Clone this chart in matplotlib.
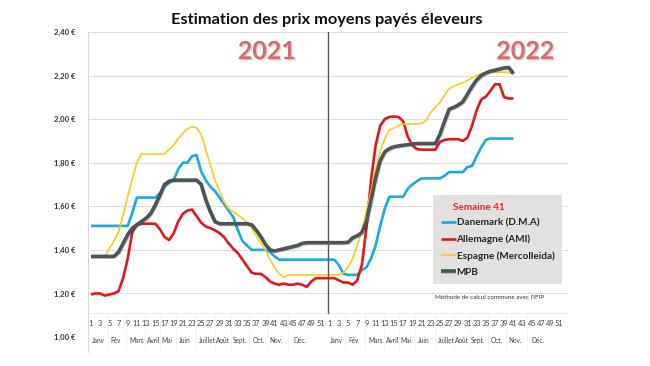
import numpy as np
import matplotlib
matplotlib.use("Agg")
import matplotlib.pyplot as plt
import matplotlib.patheffects as pe

plt.rcParams['font.family'] = ['Lato', 'DejaVu Sans']

# weekly prices 2021 (weeks 1-52)
danemark_2021 = [1.51] * 9 + [1.57] + [1.64] * 5 + [
    1.66, 1.69, 1.71, 1.72, 1.77, 1.80, 1.80, 1.83, 1.835, 1.76,
    1.72, 1.69, 1.67, 1.64, 1.61, 1.58, 1.55, 1.49, 1.44, 1.42] + [1.40] * 4 + [1.39, 1.37] + [1.355] * 11
allemagne_2021 = [1.195, 1.20, 1.20, 1.19, 1.195, 1.20, 1.21, 1.27, 1.36, 1.48,
                  1.515, 1.52, 1.52, 1.52, 1.52, 1.495, 1.46, 1.445, 1.475, 1.53,
                  1.565, 1.58, 1.585, 1.555, 1.525, 1.507, 1.50, 1.49, 1.477, 1.458,
                  1.43, 1.405, 1.385, 1.355, 1.325, 1.295, 1.29, 1.29, 1.275, 1.255,
                  1.245, 1.24, 1.245, 1.24, 1.24, 1.245, 1.24, 1.23, 1.255, 1.27,
                  1.27, 1.27]
espagne_2021 = [1.37] * 4 + [1.405, 1.44, 1.48, 1.56, 1.645, 1.725, 1.80] + [1.84] * 6 + [
    1.86, 1.88, 1.91, 1.935, 1.955, 1.965, 1.96, 1.93, 1.86, 1.79,
    1.72, 1.67, 1.62, 1.59, 1.575, 1.56, 1.545, 1.525, 1.50, 1.465,
    1.43, 1.40, 1.355, 1.32, 1.29, 1.275] + [1.285] * 9
mpb_2021 = [1.37] * 6 + [1.39, 1.43, 1.47, 1.50, 1.515, 1.53, 1.545, 1.567, 1.605, 1.65,
                         1.70, 1.715] + [1.72] * 6 + [1.70, 1.63, 1.575, 1.53] + [1.52] * 7 + [
    1.515, 1.49, 1.46, 1.425, 1.40, 1.395, 1.40, 1.405, 1.41, 1.415,
    1.42, 1.43] + [1.433] * 5

# weekly prices 2022 (weeks 1-41)
danemark_2022 = [1.355, 1.355, 1.33, 1.29, 1.285, 1.285, 1.285, 1.307, 1.32, 1.36,
                 1.42, 1.51, 1.59, 1.644, 1.644, 1.644, 1.644, 1.68, 1.70, 1.715,
                 1.728, 1.728, 1.728, 1.728, 1.728, 1.74, 1.757, 1.757, 1.757, 1.757,
                 1.78, 1.785, 1.83, 1.87, 1.905, 1.911, 1.911, 1.911, 1.911, 1.911,
                 1.911]
allemagne_2022 = [1.27, 1.27, 1.26, 1.25, 1.25, 1.24, 1.26, 1.33, 1.50, 1.72,
                  1.88, 1.97, 2.00, 2.01, 2.012, 2.01, 1.99, 1.92, 1.88, 1.862,
                  1.86, 1.86, 1.86, 1.86, 1.895, 1.905, 1.908, 1.908, 1.908, 1.90,
                  1.915, 1.97, 2.04, 2.09, 2.103, 2.13, 2.16, 2.16, 2.10, 2.095,
                  2.095]
espagne_2022 = [1.285, 1.285, 1.285, 1.295, 1.32, 1.36, 1.42, 1.49, 1.58, 1.67,
                1.77, 1.85, 1.91, 1.95, 1.96, 1.972, 1.977, 1.978, 1.978, 1.978,
                1.98, 1.995, 2.03, 2.056, 2.075, 2.11, 2.14, 2.15, 2.16, 2.168,
                2.178, 2.19, 2.20, 2.21, 2.213, 2.215, 2.215, 2.215, 2.215, 2.215,
                2.205]
mpb_2022 = [1.433, 1.433, 1.433, 1.433, 1.435, 1.455, 1.465, 1.48, 1.53, 1.63,
            1.73, 1.81, 1.85, 1.865, 1.873, 1.877, 1.88, 1.883, 1.886, 1.888,
            1.888, 1.888, 1.888, 1.888, 1.93, 1.99, 2.045, 2.054, 2.065, 2.08,
            2.115, 2.15, 2.18, 2.20, 2.212, 2.22, 2.225, 2.23, 2.235, 2.237,
            2.21]

weeks_per_year = 52
week_labels = [str(w) for w in range(1, weeks_per_year + 1)]
months = ["Janv", "Fév", "Mars", "Avril", "Mai", "Juin", "Juillet", "Août",
          "Sept.", "Oct.", "Nov.", "Déc."]
month_pos = [1.5, 5.3, 10.0, 13.7, 16.5, 20.5, 25.3, 28.7, 32.4, 36.5, 40.4, 45.4]
yticks = [1.0, 1.2, 1.4, 1.6, 1.8, 2.0, 2.2, 2.4]

series = [
    ("Danemark (D.M.A)", danemark_2021 + danemark_2022, "#1AA9E2", 1.9),
    ("Allemagne (AMI)", allemagne_2021 + allemagne_2022, "#E3161C", 1.9),
    ("Espagne (Mercolleida)", espagne_2021 + espagne_2022, "#FFC918", 1.2),
    ("MPB", mpb_2021 + mpb_2022, "#4A5557", 2.6),
]

fig = plt.figure(figsize=(6.5, 3.66), dpi=100)
ax = fig.add_axes([88 / 650, 29 / 366, 480 / 650, 305 / 366])

handles = []
for name, vals, col, lw in series:
    x = np.arange(len(vals))
    effects = None
    if name == "MPB":
        effects = [pe.SimpleLineShadow(offset=(0.6, -0.6), alpha=0.2), pe.Normal()]
    ln, = ax.plot(x, vals, color=col, lw=lw, label=name, solid_capstyle='butt',
                  path_effects=effects)
    handles.append(ln)

ax.set_xlim(-0.65, 103.9)
ax.set_ylim(1.0, 2.4)
ax.set_yticks(yticks)
ax.set_yticklabels([("%.2f €" % v).replace(".", ",") for v in yticks],
                   fontsize=5.5, fontweight='bold', color='#333333')
ax.tick_params(axis='y', length=0, pad=9)
ax.set_xticks([])
for t in yticks[1:]:
    ax.axhline(t, color='#DDDDDD', lw=0.8, zorder=0)
for s in ['top', 'right', 'bottom']:
    ax.spines[s].set_visible(False)
ax.spines['left'].set_color('#D9D9D9')
ax.spines['left'].set_linewidth(0.8)

# category axis line and year separator
ax.plot([-0.65, 103.9], [1.11, 1.11], color='#E6E6E6', lw=0.6, zorder=0)
ax.plot([51.6, 51.6], [1.11, 2.4], color='#595959', lw=1.0)
ax.plot([-0.65, -0.65], [0.93, 1.0], color='#D9D9D9', lw=0.8, clip_on=False)

# week and month labels
for yr in range(2):
    off = yr * weeks_per_year
    for i in range(0, weeks_per_year, 2):
        ax.text(off + i, 1.064, week_labels[i], ha='center', va='center',
                fontsize=5.3, color='#404040', clip_on=False)
    for m, p in zip(months, month_pos):
        ax.text(off + p, 0.985, m, ha='center', va='center', fontsize=4.7,
                color='#404040', clip_on=False)
    bounds = [0] + [(a + b) / 2 for a, b in zip(month_pos[:-1], month_pos[1:])] + [weeks_per_year]
    for b in bounds[1:-1]:
        ax.plot([off + b, off + b], [0.94, 1.11], color='#EDEDED', lw=0.5, clip_on=False)

# year captions
year_fx = [pe.withSimplePatchShadow(offset=(1, -1), shadow_rgbFace='#888888', alpha=0.35)]
ax.text(38.3, 2.31, "2021", fontsize=18, fontweight='bold', color='#DB6B6B',
        ha='center', va='center', path_effects=year_fx)
ax.text(94.6, 2.31, "2022", fontsize=18, fontweight='bold', color='#DB6B6B',
        ha='center', va='center', path_effects=year_fx)

ax.text(86.9, 1.18, "Méthode de calcul commune avec l'IFIP", fontsize=4.5,
        color='#333333', ha='center', va='center')

fig.text(0.502, 0.945, "Estimation des prix moyens payés éleveurs", fontsize=11.8,
         fontweight='bold', ha='center', va='center', color='#111111')

leg = ax.legend(handles=handles, loc='upper left',
                bbox_to_anchor=(433 / 650, (366 - 195) / 366),
                bbox_transform=fig.transFigure, borderaxespad=0,
                title="     Semaine 41", alignment='left',
                prop={'weight': 'bold', 'size': 7.2},
                title_fontproperties={'weight': 'bold', 'size': 7.2},
                frameon=True, fancybox=False, facecolor='#E3E1DF', edgecolor='none',
                framealpha=1, handlelength=1.5, handletextpad=0.1,
                labelspacing=0.7, borderpad=0.75)
leg.get_title().set_color('#E8262A')
for t in leg.get_texts():
    t.set_color('#262626')

fig.savefig("out.png", dpi=100)
